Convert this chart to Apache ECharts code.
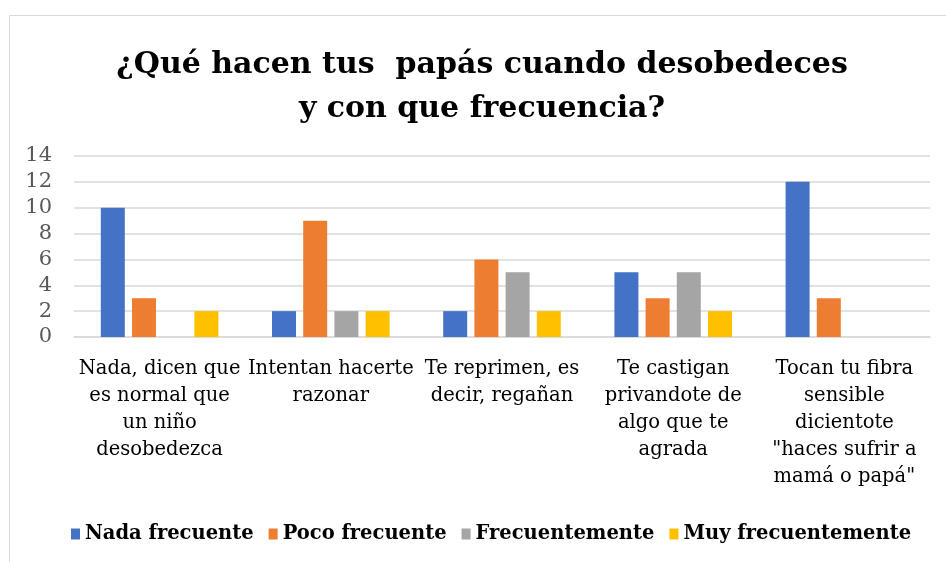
<!DOCTYPE html>
<html>
<head>
<meta charset="utf-8">
<script src="https://cdn.jsdelivr.net/npm/echarts@6/dist/echarts.min.js"></script>
<style>
  html, body { margin: 0; padding: 0; background: #fff; }
  #chart { width: 946px; height: 562px; }
</style>
</head>
<body>
<div id="chart"></div>
<script>
// categorias (con saltos de linea como en el original)
var categorias = [
  'Nada, dicen que\nes normal que\nun niño\ndesobedezca',
  'Intentan hacerte\nrazonar',
  'Te reprimen, es\ndecir, regañan',
  'Te castigan\nprivandote de\nalgo que te\nagrada',
  'Tocan tu fibra\nsensible\ndicientote\n"haces sufrir a\nmamá o papá"'
]
var nadaFrecuente = [10, 2, 2, 5, 12]
var pocoFrecuente = [3, 9, 6, 3, 3]
var frecuentemente = [0, 2, 5, 5, 0]
var muyFrecuentemente = [2, 2, 2, 2, 0]
var nombres = ['Nada frecuente', 'Poco frecuente', 'Frecuentemente', 'Muy frecuentemente']
var colores = ['#4472C4', '#ED7D31', '#A5A5A5', '#FFC000']

var serif = '"DejaVu Serif", "Liberation Serif", serif'

function serie (nombre, datos) {
  return {
    name: nombre,
    type: 'bar',
    barWidth: 24,
    barGap: '30%',
    data: datos
  }
}

var myChart = echarts.init(document.getElementById('chart'))
myChart.setOption({
  animation: false,
  color: colores,
  title: {
    text: '¿Qué hacen tus  papás cuando desobedeces\ny con que frecuencia?',
    left: 477,
    top: 38,
    textAlign: 'center',
    textStyle: {
      fontFamily: serif,
      fontWeight: 'bold',
      fontSize: 30,
      lineHeight: 44,
      color: '#000'
    }
  },
  graphic: [
    {
      type: 'rect',
      shape: { x: 9.5, y: 15.5, width: 960, height: 600 },
      style: { fill: 'none', stroke: '#d9d9d9', lineWidth: 1 },
      silent: true
    }
  ],
  legend: {
    left: 66,
    bottom: 13,
    itemWidth: 9,
    itemHeight: 11,
    itemGap: 15,
    icon: 'rect',
    data: nombres,
    textStyle: {
      fontFamily: serif,
      fontWeight: 'bold',
      fontSize: 19.5,
      color: '#000'
    }
  },
  grid: {
    left: 74,
    right: 16,
    top: 156,
    bottom: 225,
    containLabel: false
  },
  xAxis: {
    type: 'category',
    data: categorias,
    axisLine: { lineStyle: { color: '#d9d9d9', width: 1.5 } },
    axisTick: { show: false },
    axisLabel: {
      interval: 0,
      margin: 18,
      fontFamily: serif,
      fontSize: 19.5,
      lineHeight: 27,
      color: '#000'
    }
  },
  yAxis: {
    type: 'value',
    min: 0,
    max: 14,
    interval: 2,
    axisLine: { show: false },
    axisTick: { show: false },
    splitLine: { lineStyle: { color: '#d9d9d9', width: 1.5 } },
    axisLabel: {
      margin: 22,
      fontFamily: serif,
      fontSize: 21,
      color: '#595959'
    }
  },
  series: [
    serie(nombres[0], nadaFrecuente),
    serie(nombres[1], pocoFrecuente),
    serie(nombres[2], frecuentemente),
    serie(nombres[3], muyFrecuentemente)
  ]
})
</script>
</body>
</html>
